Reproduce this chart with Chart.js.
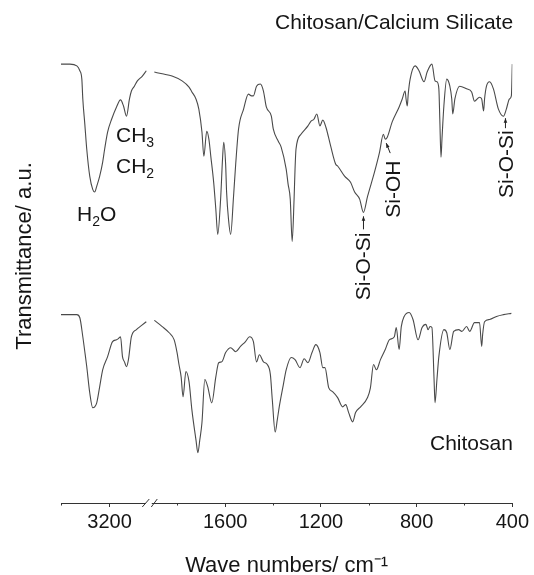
<!DOCTYPE html>
<html><head><meta charset="utf-8">
<script src="https://cdn.jsdelivr.net/npm/chart.js@4/dist/chart.umd.min.js"></script>
<style>html,body{margin:0;padding:0;background:#fff}</style>
</head><body>
<canvas id="c" width="534" height="575" style="width:534px;height:575px;display:block"></canvas>
<script>
// ---- data (wave numbers in cm^-1, transmittance in a.u.) ----
const compositeLeftWave = [4000,3853,3739,3690,3657,3641,3608,3576,3527,3478,3445,3412,3363,3314,3282,3233,3167,3086,3020,2971,2922,2873,2841,2792,2743,2661,2596];
const compositeLeftT = [99.5,99.5,99.1,98.0,96.1,91.6,85.9,80.2,74.1,71.1,70.5,71.8,74.1,77.3,80.2,84.1,87.0,89.8,91.4,90.0,87.7,91.6,93.4,94.5,95.7,96.8,98.0];
const compositeRightWave = [1896,1863,1822,1780,1751,1739,1722,1710,1697,1689,1677,1668,1660,1648,1639,1631,1619,1611,1606,1598,1594,1586,1577,1565,1556,1544,1523,1503,1490,1482,1469,1453,1440,1428,1407,1399,1378,1366,1345,1337,1328,1320,1312,1308,1304,1283,1254,1241,1229,1217,1204,1192,1179,1159,1138,1130,1101,1076,1059,1038,1022,1005,976,955,939,931,922,902,873,860,848,844,839,835,827,806,790,769,756,736,723,715,707,703,698,694,686,674,661,653,649,640,620,591,570,558,537,528,520,516,508,495,479,458,437,425,412,404,400];
const compositeRightT = [97.7,97.3,96.8,95.7,94.3,93.2,91.6,89.3,84.1,78.6,84.3,82.5,78.6,72.7,66.6,60.9,68.9,78.0,81.8,76.8,70.5,64.3,60.9,69.5,76.8,84.8,89.3,92.7,92.3,92.3,94.5,95.0,93.4,89.8,87.7,84.8,82.0,80.7,75.7,72.3,68.9,59.3,68.9,75.7,80.2,83.6,85.5,86.6,87.0,88.2,85.5,86.8,85.2,80.9,76.8,76.4,74.1,72.7,70.5,68.9,65.9,69.5,75.0,79.5,83.6,82.5,83.0,86.4,89.8,91.6,93.4,91.6,90.0,92.7,96.1,99.1,98.0,95.5,97.7,99.5,95.7,95.5,93.9,87.0,78.4,82.5,90.0,96.1,94.5,91.6,88.2,91.6,94.5,93.9,93.2,91.1,92.0,91.6,88.9,91.6,94.5,95.5,93.9,89.3,87.7,89.3,91.6,92.3,99.5];
const chitosanLeftWave = [4000,3853,3739,3690,3641,3608,3576,3527,3478,3445,3412,3363,3314,3233,3151,3086,3053,3020,2988,2955,2922,2890,2841,2759,2678,2596];
const chitosanLeftT = [42.7,42.7,42.7,42.0,37.7,34.3,30.9,25.0,21.6,21.8,22.7,26.4,30.2,33.2,36.6,37.0,37.3,37.7,33.2,32.0,30.9,32.5,37.7,39.3,40.2,41.1];
const chitosanRightWave = [1896,1863,1834,1813,1801,1793,1784,1776,1764,1751,1739,1722,1714,1706,1697,1685,1673,1656,1639,1627,1614,1598,1577,1556,1536,1515,1498,1482,1469,1457,1440,1424,1411,1403,1391,1382,1374,1357,1345,1324,1308,1287,1270,1254,1237,1221,1204,1192,1183,1167,1150,1130,1109,1096,1084,1067,1055,1034,1005,993,980,968,951,931,914,893,885,873,864,852,831,815,794,777,761,752,744,736,727,723,715,707,686,674,661,645,624,611,591,578,558,537,528,524,516,495,466,437,404];
const chitosanRightT = [41.4,40.0,38.6,37.0,34.1,31.4,28.6,24.1,29.8,27.5,21.1,14.3,11.4,14.3,18.2,28.0,26.4,22.7,28.6,31.8,32.0,34.1,35.2,34.3,35.5,36.6,37.7,36.6,32.0,33.6,32.0,31.4,29.1,23.4,16.1,18.9,21.8,26.8,30.2,33.0,32.5,30.7,32.7,31.8,34.1,35.9,34.1,30.7,30.7,26.1,25.2,23.9,21.8,22.3,20.5,18.4,20.5,21.8,23.9,26.1,31.4,30.2,32.5,34.8,37.0,37.7,39.8,34.8,40.0,42.3,43.2,41.6,37.0,39.8,40.5,39.3,40.0,39.8,28.0,22.7,28.0,33.2,39.3,38.6,34.8,38.9,39.3,38.9,40.0,38.9,40.9,40.9,35.5,38.2,41.1,41.6,42.3,42.7,43.0];
const axisTickWaves = [4000,3200,1800,1600,1400,1200,1000,800,600,400];
const axisTickLabels = ['','3200','','1600','','1200','','800','','400'];

// ---- broken wave-number axis: two linear segments ----
function toX(w){ return w >= 2300 ? (4000 - w) * 49 / 800 : 455 - (w - 400) * 0.24125; }
const BREAK_POS = 89.5;
const FONT = "'Liberation Sans', Arial, Helvetica, sans-serif";
const LINE = '#4a4a4a', AXIS = '#333', TEXT = '#151515';

function pts(ws, ts){ return ws.map((w,i)=>({x: toX(w), y: ts[i]})); }
function ds(data){ return {data, borderColor: LINE, borderWidth: 1.1, pointRadius: 0, fill: false, cubicInterpolationMode: 'monotone'}; }

function drawChem(ctx, parts, x, base){
  let cx = x;
  parts.forEach(([t, sub])=>{
    ctx.font = (sub ? '14px ' : '21px ') + FONT;
    ctx.fillText(t, cx, base + (sub ? 5 : 0));
    cx += ctx.measureText(t).width;
  });
}
function drawRot(ctx, text, baseX, cy){
  ctx.save(); ctx.translate(baseX, cy); ctx.rotate(-Math.PI/2);
  ctx.font = '21px ' + FONT; ctx.textAlign = 'center'; ctx.textBaseline = 'alphabetic';
  ctx.fillText(text, 0, 0); ctx.restore();
}
function arrow(ctx, x1, y1, x2, y2){
  ctx.beginPath(); ctx.moveTo(x1,y1); ctx.lineTo(x2,y2); ctx.stroke();
  const a = Math.atan2(y2-y1, x2-x1), L = 4.5, W = 1.8;
  ctx.beginPath(); ctx.moveTo(x2,y2);
  ctx.lineTo(x2 - L*Math.cos(a) + W*Math.sin(a), y2 - L*Math.sin(a) - W*Math.cos(a));
  ctx.lineTo(x2 - L*Math.cos(a) - W*Math.sin(a), y2 - L*Math.sin(a) + W*Math.cos(a));
  ctx.closePath(); ctx.fill();
}

const overlay = {
  id: 'overlay',
  afterDraw(chart){
    const {ctx, chartArea} = chart, xs = chart.scales.x, ys = chart.scales.y;
    const b = chartArea.bottom;
    ctx.save();
    // minor ticks
    ctx.strokeStyle = AXIS; ctx.lineWidth = 1;
    axisTickWaves.forEach((w,i)=>{
      if (axisTickLabels[i]) return;
      const px = Math.round(xs.getPixelForValue(toX(w))) + 0.5;
      ctx.beginPath(); ctx.moveTo(px, b); ctx.lineTo(px, b + 2.5); ctx.stroke();
    });
    // axis break //
    const bx = xs.getPixelForValue(BREAK_POS);
    ctx.fillStyle = '#fff'; ctx.fillRect(bx - 4, b - 2, 6, 4);
    ctx.beginPath(); ctx.moveTo(bx - 7.5, b + 4); ctx.lineTo(bx - 0.5, b - 4);
    ctx.moveTo(bx + 1.5, b + 4); ctx.lineTo(bx + 7.5, b - 4); ctx.stroke();

    // labels
    ctx.fillStyle = TEXT; ctx.textBaseline = 'alphabetic'; ctx.textAlign = 'left';
    ctx.font = '21px ' + FONT;
    ctx.fillText('Chitosan/Calcium Silicate', 275, 29);
    ctx.fillText('Chitosan', 430, 450);
    drawChem(ctx, [['H',false],['2',true],['O',false]], 77, 221);
    drawChem(ctx, [['CH',false],['3',true]], 116, 142);
    drawChem(ctx, [['CH',false],['2',true]], 116, 173);

    // arrows anchored to spectral features
    ctx.strokeStyle = '#222'; ctx.fillStyle = '#222'; ctx.lineWidth = 1;
    const p1x = xs.getPixelForValue(toX(1022)), p1y = ys.getPixelForValue(65.9);
    arrow(ctx, p1x, p1y + 17, p1x, p1y + 4);
    const p2x = xs.getPixelForValue(toX(931)), p2y = ys.getPixelForValue(82.5);
    arrow(ctx, p2x + 5, p2y + 14, p2x + 1, p2y + 4);
    const p3x = xs.getPixelForValue(toX(437)), p3y = ys.getPixelForValue(87.7);
    arrow(ctx, p3x + 2, p3y + 12, p3x + 2, p3y + 2);
    ctx.fillStyle = TEXT;
    drawRot(ctx, 'Si-O-Si', p1x + 7, p1y + 54);
    drawRot(ctx, 'Si-OH', p2x + 15, p2y + 50);
    drawRot(ctx, 'Si-O-Si', p3x + 10, p3y + 48);
    ctx.restore();
  }
};

new Chart(document.getElementById('c'), {
  type: 'line',
  data: { datasets: [
    ds(pts(compositeLeftWave, compositeLeftT)),
    ds(pts(compositeRightWave, compositeRightT)),
    ds(pts(chitosanLeftWave, chitosanLeftT)),
    ds(pts(chitosanRightWave, chitosanRightT))
  ]},
  options: {
    responsive: false, animation: false, devicePixelRatio: 1,
    layout: { padding: { top: 9, right: 18, bottom: 0, left: 0 } },
    plugins: { legend: { display: false }, tooltip: { enabled: false } },
    scales: {
      x: {
        type: 'linear', min: 0, max: 455, offset: false,
        afterBuildTicks(s){ s.ticks = axisTickWaves.map(w => ({ value: toX(w) })); },
        ticks: { autoSkip: false, maxRotation: 0, minRotation: 0, padding: 5, color: TEXT,
                 font: { family: FONT, size: 20, lineHeight: 1 },
                 callback: (v, i) => axisTickLabels[i] },
        grid: { display: true, drawOnChartArea: false, drawTicks: true, tickLength: 4, tickWidth: 1,
                tickColor: c => axisTickLabels[c.index] ? AXIS : 'rgba(0,0,0,0)' },
        border: { display: true, color: AXIS, width: 1 },
        title: { display: true, text: 'Wave numbers/ cm⁻¹', color: TEXT,
                 font: { family: FONT, size: 22, lineHeight: 1 }, padding: { top: 0, bottom: -2 } },
        afterFit(s){ s.height = 72; }
      },
      y: {
        min: 0, max: 112,
        ticks: { display: false },
        grid: { display: false, drawTicks: false },
        border: { display: false },
        title: { display: true, text: 'Transmittance/ a.u.', color: TEXT,
                 font: { family: FONT, size: 22, lineHeight: 1 }, padding: { top: 14, bottom: 0 } },
        afterFit(s){ s.width = 61; }
      }
    }
  },
  plugins: [overlay]
});
</script>
</body></html>
